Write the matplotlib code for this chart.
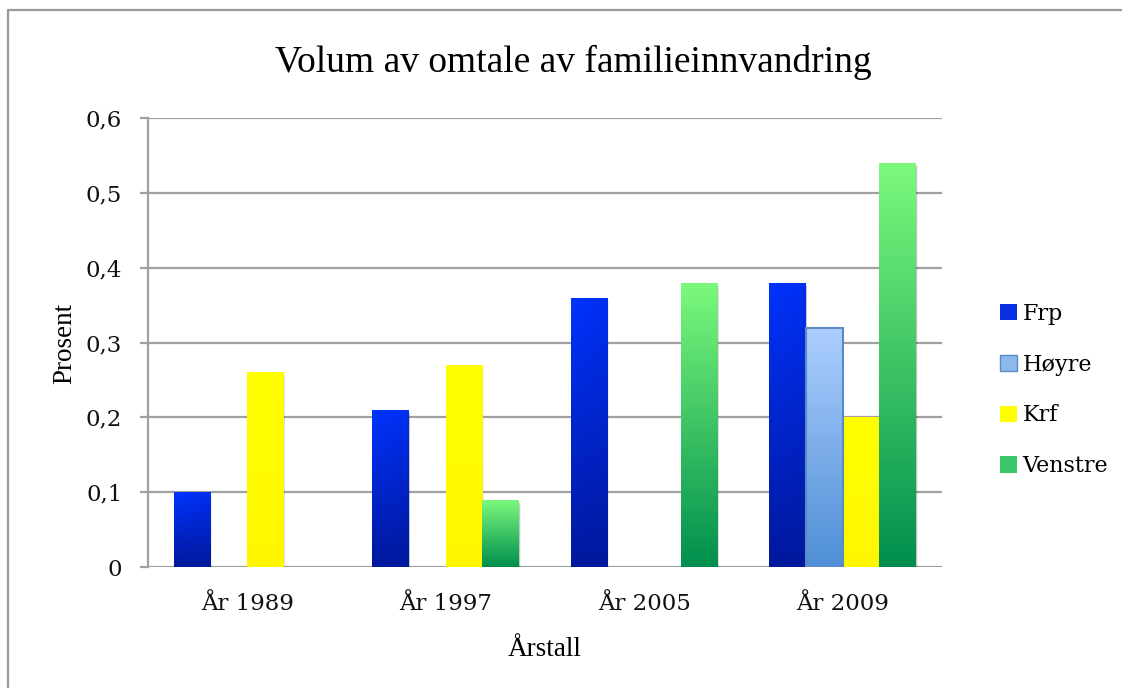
import numpy as np
import matplotlib
matplotlib.use("Agg")
import matplotlib.pyplot as plt
from matplotlib.patches import Patch, Rectangle
from matplotlib.lines import Line2D
from matplotlib.colors import LinearSegmentedColormap

# ---- data ----
categories = ["År 1989", "År 1997", "År 2005", "År 2009"]
series = ["Frp", "Høyre", "Krf", "Venstre"]
frp = [0.10, 0.21, 0.36, 0.38]
hoyre = [0.0, 0.0, 0.0, 0.32]
krf = [0.26, 0.27, 0.0, 0.20]
venstre = [0.0, 0.09, 0.38, 0.54]
yticks = [0, 0.1, 0.2, 0.3, 0.4, 0.5, 0.6]
ytick_labels = ["0", "0,1", "0,2", "0,3", "0,4", "0,5", "0,6"]
title = "Volum av omtale av familieinnvandring"
xlabel = "Årstall"
ylabel = "Prosent"

values = [frp, hoyre, krf, venstre]
# (top colour, bottom colour, edge colour)
styles = [
    ("#0033ff", "#00189c", None),
    ("#acceff", "#4f8fd6", "#5b8ac6"),
    ("#ffff00", "#fff700", None),
    ("#7cf97c", "#008f4e", None),
]
legend_colors = ["#0a2ee0", "#8cb8ec", "#ffff00", "#3cc86a"]

W, H = 1122, 688
fig = plt.figure(figsize=(W / 100, H / 100), dpi=100)
ax = fig.add_axes([148 / W, (H - 567) / H, 794 / W, 449 / H])

n_cat = len(categories)
n_ser = len(series)
bar_w = 0.185
x = np.arange(n_cat)

for si, (vals, (ctop, cbot, edge)) in enumerate(zip(values, styles)):
    cmap = LinearSegmentedColormap.from_list(f"g{si}", [cbot, ctop])
    offs = (si - (n_ser - 1) / 2) * bar_w
    for ci, v in enumerate(vals):
        if v <= 0:
            continue
        x0 = x[ci] + offs - bar_w / 2
        # soft shadow
        for k, a in zip([0.006, 0.004, 0.002], [0.06, 0.08, 0.10]):
            sh = Rectangle((x0 + k * 1.2, -0.004), bar_w, v, facecolor="black",
                           alpha=a, edgecolor="none", zorder=2.5)
            ax.add_patch(sh)
        rect = Rectangle((x0, 0), bar_w, v, facecolor="none",
                         edgecolor=edge if edge else "none",
                         linewidth=1.5 if edge else 0, zorder=4)
        ax.add_patch(rect)
        gy = np.linspace(0, 1, 200)[:, None]
        gx = np.linspace(1, 0, 20)[None, :]
        grad = 0.85 * gy + 0.15 * gx * gy if si == 0 else gy + 0 * gx
        im = ax.imshow(grad, extent=[x0, x0 + bar_w, 0, v], origin="lower",
                       aspect="auto", cmap=cmap, vmin=0, vmax=1, zorder=3,
                       interpolation="bilinear")
        clip = Rectangle((x0, 0), bar_w, v, transform=ax.transData)
        im.set_clip_path(clip)

ax.set_xlim(-0.5, n_cat - 0.5)
ax.set_ylim(0, 0.6)
ax.set_yticks(yticks)
ax.set_yticklabels(ytick_labels)
ax.set_xticks(x)
ax.set_xticklabels(categories)

ax.grid(axis="y", color="#a0a0a0", linewidth=1.6, zorder=1)
ax.set_axisbelow(True)
for s in ["top", "right", "bottom"]:
    ax.spines[s].set_visible(False)
ax.spines["left"].set_color("#a0a0a0")
ax.spines["left"].set_linewidth(1.6)
ax.tick_params(axis="y", length=5.5, width=1.6, color="#a0a0a0", pad=13,
               labelsize=16.5)
ax.tick_params(axis="x", length=0, pad=19, labelsize=16.5)
for lab in ax.get_xticklabels() + ax.get_yticklabels():
    lab.set_family("DejaVu Serif")
    lab.set_color("#111111")

fig.text(573 / W, 1 - 62 / H, title, ha="center", va="center",
         fontsize=27, family="Liberation Serif")
fig.text(545 / W, 1 - 650 / H, xlabel, ha="center", va="center",
         fontsize=19.5, family="Liberation Serif")
fig.text(65 / W, 1 - 343 / H, ylabel, ha="center", va="center",
         fontsize=19.5, family="Liberation Serif", rotation=90)

handles = [Patch(facecolor=c, edgecolor=("#5b8ac6" if i == 1 else "none"))
           for i, c in enumerate(legend_colors)]
leg = fig.legend(handles, series, loc="center left",
                 bbox_to_anchor=(989 / W, 1 - 390 / H), frameon=False,
                 borderpad=0, handlelength=0.75, handleheight=0.75,
                 handletextpad=0.25, labelspacing=1.3,
                 prop={"family": "DejaVu Serif", "size": 16})

# outer border (left and top)
fig.add_artist(Line2D([8 / W, 8 / W, 1.0], [0.0, 1 - 10 / H, 1 - 10 / H],
                      transform=fig.transFigure, color="#9a9a9a",
                      linewidth=1.6))

fig.savefig("out.png", dpi=100)
